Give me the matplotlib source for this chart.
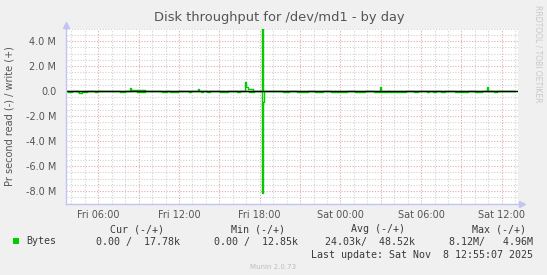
"""Munin style disk throughput graph (read negative, write positive)."""

import matplotlib
matplotlib.use("Agg")
import matplotlib.pyplot as plt
from matplotlib.patches import Rectangle
from matplotlib.ticker import MultipleLocator, FuncFormatter

# Time is given in hours from Fri 00:00; throughput in MB/s.
# Series are step values (value holds until the next hour listed).
write_hours = [3.6, 8.35, 8.45, 9.46, 13.42, 13.52, 16.93, 17.0, 17.1, 17.5,
               18.15, 18.23, 26.95, 27.03, 34.9, 34.98, 36.9]
write_mbps = [0.0, 0.24, 0.08, 0.0, 0.16, 0.0, 0.75, 0.3, 0.2, 0.0,
              4.96, 0.0, 0.3, 0.0, 0.3, 0.0, 0.0]

read_hours = [3.6, 3.74, 4.04, 4.49, 4.56, 4.78, 5.16, 5.75, 5.9, 7.6, 7.98,
              8.9, 9.46, 10.73, 11.1, 11.32, 11.92, 12.78, 12.86, 13.6, 13.75,
              14.07, 14.3, 15.04, 15.64, 16.3, 16.53, 17.2, 17.6,
              18.15, 18.23, 18.31, 19.7, 20.2, 20.8, 21.6, 22.1, 22.7,
              23.27, 23.56, 23.62, 24.5, 25.1, 25.8, 26.5, 27.5, 27.6, 28.9,
              29.5, 29.8, 30.4, 30.6, 30.9, 31.1, 31.5, 31.75, 32.5, 32.9,
              33.0, 33.5, 34.0, 34.55, 35.45, 35.67, 36.9]
read_mbps = [0.0, 0.1, 0.0, 0.1, 0.18, 0.1, 0.0, 0.1, 0.0, 0.1, 0.0,
             0.1, 0.0, 0.1, 0.0, 0.1, 0.0, 0.1, 0.0, 0.1, 0.0,
             0.1, 0.0, 0.1, 0.0, 0.1, 0.0, 0.1, 0.0,
             8.12, 0.9, 0.0, 0.1, 0.0, 0.1, 0.0, 0.1, 0.0,
             0.1, 0.0, 0.1, 0.0, 0.1, 0.0, 0.1, 0.0, 0.1, 0.0,
             0.1, 0.0, 0.1, 0.0, 0.1, 0.0, 0.1, 0.0, 0.1, 0.0,
             0.1, 0.0, 0.1, 0.0, 0.1, 0.0, 0.0]

tick_hours = [6, 12, 18, 24, 30, 36]
tick_labels = ["Fri 06:00", "Fri 12:00", "Fri 18:00",
               "Sat 00:00", "Sat 06:00", "Sat 12:00"]

legend_headers = ["Cur (-/+)", "Min (-/+)", "Avg (-/+)", "Max (-/+)"]
legend_values = ["0.00 /  17.78k", "0.00 /  12.85k",
                 "24.03k/  48.52k", "8.12M/   4.96M"]
series_name = "Bytes"
last_update = "Last update: Sat Nov  8 12:55:07 2025"

W, H = 547, 275
GREEN = "#00CC00"
AXIS_COL = "#C4C4F4"
TEXT_COL = "#555555"
LEG_COL = "#3a3a3a"


def px(x, y):
    """Pixel position (top-left origin) to figure fraction."""
    return x / W, 1 - y / H


fig = plt.figure(figsize=(W / 100, H / 100), dpi=100, facecolor="#F0F0F0")
left, right, top, bottom = 66, 518, 28.5, 203.5
ax = fig.add_axes([left / W, 1 - bottom / H, (right - left) / W, (bottom - top) / H])
ax.set_facecolor("white")

ax.plot(write_hours, write_mbps, drawstyle="steps-post", color=GREEN,
        lw=1.0, zorder=3)
ax.plot(read_hours, [-v for v in read_mbps], drawstyle="steps-post",
        color=GREEN, lw=1.0, zorder=3)
ax.axhline(0, color="black", lw=1.0, zorder=4)

ax.set_xlim(3.6, 37.2)
ax.set_ylim(-9.0, 5.0)

# Grid: major red every 3h / 2M, minor grey every 1h / 0.5M
ax.xaxis.set_major_locator(MultipleLocator(3))
ax.xaxis.set_minor_locator(MultipleLocator(1))
ax.yaxis.set_major_locator(MultipleLocator(2))
ax.yaxis.set_minor_locator(MultipleLocator(0.5))
labels = dict(zip(tick_hours, tick_labels))
ax.xaxis.set_major_formatter(
    FuncFormatter(lambda v, p: labels.get(int(round(v)), "")))
ax.yaxis.set_major_formatter(
    FuncFormatter(lambda v, p: "0.0" if abs(v) < 1e-9 else f"{v:.1f} M"))
ax.grid(which="minor", color="#D2D2D2", lw=0.8, linestyle=(0, (1, 1.5)), zorder=1)
ax.grid(which="major", color="#E6A8A8", lw=0.8, linestyle=(0, (1, 1.5)), zorder=2)
ax.tick_params(which="both", length=0, labelsize=7, labelcolor=TEXT_COL)
ax.tick_params(axis="x", pad=5)
ax.tick_params(axis="y", pad=7)

for side in ("top", "right"):
    ax.spines[side].set_visible(False)
for side in ("left", "bottom"):
    ax.spines[side].set_color(AXIS_COL)
    ax.spines[side].set_linewidth(1.0)
    ax.spines[side].set_zorder(5)

# axis arrows
ax.plot([1.0, 1.008], [0, 0], transform=ax.transAxes, color=AXIS_COL,
        lw=1.0, clip_on=False)
ax.plot([1.008], [0], marker=">", ms=4, color=AXIS_COL, mec=AXIS_COL,
        transform=ax.transAxes, clip_on=False)
ax.plot([0, 0], [1.0, 1.02], transform=ax.transAxes, color=AXIS_COL,
        lw=1.0, clip_on=False)
ax.plot([0], [1.02], marker="^", ms=4, color=AXIS_COL, mec=AXIS_COL,
        transform=ax.transAxes, clip_on=False)

fig.text(*px(279, 18), "Disk throughput for /dev/md1 - by day", ha="center",
         va="center", fontsize=9.4, color=TEXT_COL)
fig.text(*px(10, 116), "Pr second read (-) / write (+)", rotation=90,
         ha="center", va="center", fontsize=7, color=TEXT_COL)
fig.text(*px(538, 54), "RRDTOOL / TOBI OETIKER", rotation=270, ha="center",
         va="center", fontsize=5.5, color="#C8C8C8")

mono = dict(family="DejaVu Sans Mono", fontsize=7.2, color=LEG_COL, va="center")
header_right = [164, 285, 405, 526]
value_right = [180, 298, 415, 533]
for h, xr in zip(legend_headers, header_right):
    fig.text(*px(xr, 229), h, ha="right", **mono)
fig.add_artist(Rectangle(px(13, 244), 6 / W, 6 / H, facecolor=GREEN,
                         edgecolor="none", transform=fig.transFigure))
fig.text(*px(26, 241.5), series_name, ha="left", **mono)
for v, xr in zip(legend_values, value_right):
    fig.text(*px(xr, 241.5), v, ha="right", **mono)
fig.text(*px(533, 254.5), last_update, ha="right", **mono)
fig.text(*px(273, 267), "Munin 2.0.73", ha="center", va="center",
         fontsize=5, color="#BDBDBD")

fig.savefig("out.png", dpi=100, facecolor=fig.get_facecolor())
